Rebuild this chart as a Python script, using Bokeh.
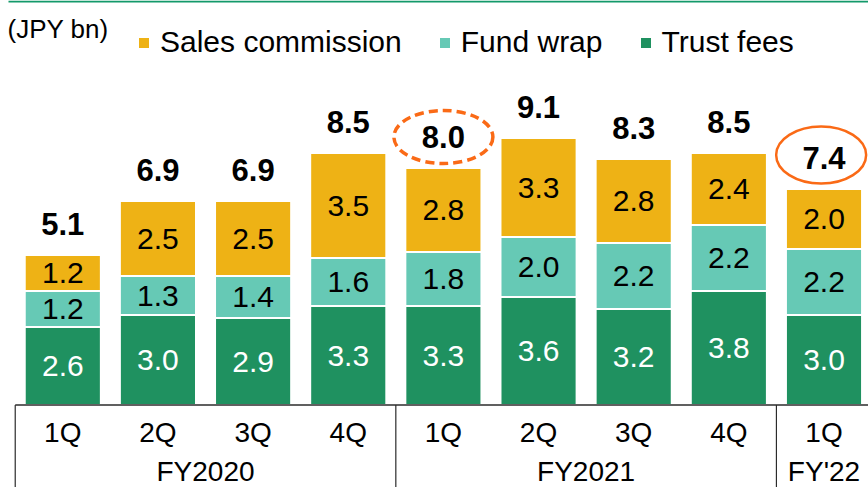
from bokeh.plotting import figure
from bokeh.models import ColumnDataSource, Legend, LegendItem, Label, BoxAnnotation
from bokeh.core.properties import value
from bokeh.embed import file_html
from bokeh.resources import INLINE

# ---------------- data ----------------
quarters = ["1Q", "2Q", "3Q", "4Q", "1Q", "2Q", "3Q", "4Q", "1Q"]
fiscal_years = ["FY2020", "FY2021", "FY'22"]
quarters_per_year = [4, 4, 1]
trust_fees = [2.6, 3.0, 2.9, 3.3, 3.3, 3.6, 3.2, 3.8, 3.0]
fund_wrap = [1.2, 1.3, 1.4, 1.6, 1.8, 2.0, 2.2, 2.2, 2.2]
sales_commission = [1.2, 2.5, 2.5, 3.5, 2.8, 3.3, 2.8, 2.4, 2.0]
totals = [5.1, 6.9, 6.9, 8.5, 8.0, 9.1, 8.3, 8.5, 7.4]
series_names = ["Trust fees", "Fund wrap", "Sales commission"]
unit_label = "(JPY bn)"
circled_dashed = [4]   # FY2021 1Q
circled_solid = [8]    # FY'22 1Q

# ---------------- layout / style ----------------
W, H = 868, 487
PX_X = 95.15          # pixels per bar slot
PX_Y = 30.0           # pixels per JPY bn
BASE_PX = 404.5       # baseline, pixels from top
X0 = -62.3 / PX_X
X1 = X0 + W / PX_X
Y1 = BASE_PX / PX_Y
Y0 = Y1 - H / PX_Y

GREEN = "#1F9160"
TEAL = "#66C9B5"
YELLOW = "#EEB215"
ORANGE = "#FA6A16"
TOPLINE = "#13996A"
AXIS = "#2B2B2B"
FONT = value("Liberation Sans")

p = figure(width=W, height=H, x_range=(X0, X1), y_range=(Y0, Y1),
           output_backend="svg", toolbar_location=None, min_border=0,
           x_axis_location=None, y_axis_location=None)
p.grid.visible = False
p.outline_line_color = None
p.background_fill_color = "white"
p.border_fill_color = "white"

n = len(quarters)
xs = list(range(n))

# ---------------- stacked bars ----------------
src = ColumnDataSource(dict(x=xs, trust=trust_fees, wrap=fund_wrap, sales=sales_commission))
bars = p.vbar_stack(["trust", "wrap", "sales"], x="x", width=0.8, source=src,
                    fill_color=[GREEN, TEAL, YELLOW], line_color="white", line_width=2)

# segment value labels
seg = dict(x=[], y=[], t=[], c=[])
cum = [0.0] * n
for series, tcol in zip([trust_fees, fund_wrap, sales_commission], ["white", "black", "black"]):
    for i, v in enumerate(series):
        seg["x"].append(i)
        seg["y"].append(cum[i] + v / 2)
        seg["t"].append(f"{v:.1f}")
        seg["c"].append(tcol)
        cum[i] += v
p.text(x="x", y="y", text="t", text_color="c", source=ColumnDataSource(seg),
       text_align="center", text_baseline="middle", text_font=FONT, text_font_size="30px")

# totals
tops = cum
tot_src = ColumnDataSource(dict(x=xs, y=tops, t=[f"{t:.1f}" for t in totals]))
LABEL_GAP = 31
p.text(x="x", y="y", text="t", source=tot_src, y_offset=-LABEL_GAP,
       text_align="center", text_baseline="middle", text_font=FONT,
       text_font_size="31px", text_font_style="bold", text_color="black")

# highlight ellipses around selected totals
p.ellipse(x=[i for i in circled_dashed], y=[tops[i] + LABEL_GAP / PX_Y for i in circled_dashed],
          width=99, height=53, width_units="screen", height_units="screen",
          fill_color=None, line_color=ORANGE, line_width=3.5, line_dash="9 5")
p.ellipse(x=[i - 0.03 for i in circled_solid],
          y=[tops[i] + (LABEL_GAP + 3) / PX_Y for i in circled_solid],
          width=90, height=57, width_units="screen", height_units="screen",
          fill_color=None, line_color=ORANGE, line_width=2.5)

# ---------------- category axis (two levels) ----------------
starts = []
s = 0
for c in quarters_per_year:
    starts.append(s)
    s += c
bounds = [st - 0.5 for st in starts]
p.segment(x0=[bounds[0]], y0=[0], x1=[X1], y1=[0], line_color=AXIS, line_width=1.5)
p.segment(x0=bounds, y0=[0] * len(bounds), x1=bounds, y1=[Y0] * len(bounds),
          line_color=AXIS, line_width=1.2)

Q_Y = -(432 - BASE_PX) / PX_Y
FY_Y = -(471 - BASE_PX) / PX_Y
p.text(x=xs, y=[Q_Y] * n, text=quarters, text_align="center", text_baseline="middle",
       text_font=FONT, text_font_size="28px", text_color="black")
fy_centers = [st + (c - 1) / 2 for st, c in zip(starts, quarters_per_year)]
p.text(x=fy_centers, y=[FY_Y] * len(fy_centers), text=fiscal_years, text_align="center",
       text_baseline="middle", text_font=FONT, text_font_size="28px", text_color="black")

# ---------------- legend ----------------
legend = Legend(items=[LegendItem(label=nm, renderers=[r]) for nm, r in
                       reversed(list(zip(series_names, bars)))],
                orientation="horizontal", location=(136, 428),
                glyph_width=15, glyph_height=15, label_standoff=9, spacing=35,
                padding=0, margin=0, border_line_alpha=0, background_fill_alpha=0,
                label_text_font_size="30px", label_text_font="Liberation Sans",
                label_text_color="black")
p.add_layout(legend)

# unit label
p.add_layout(Label(x=7, y=459, x_units="screen", y_units="screen", text=unit_label,
                   text_font_size="26px", text_font="Liberation Sans", text_baseline="middle",
                   text_color="black"))

# top rule
p.add_layout(BoxAnnotation(left=X0 + 8 / PX_X, bottom=Y1 - 2 / PX_Y, top=Y1,
                           fill_color=TOPLINE, fill_alpha=1, line_alpha=0))

open("out.html", "w").write(file_html(p, INLINE))
